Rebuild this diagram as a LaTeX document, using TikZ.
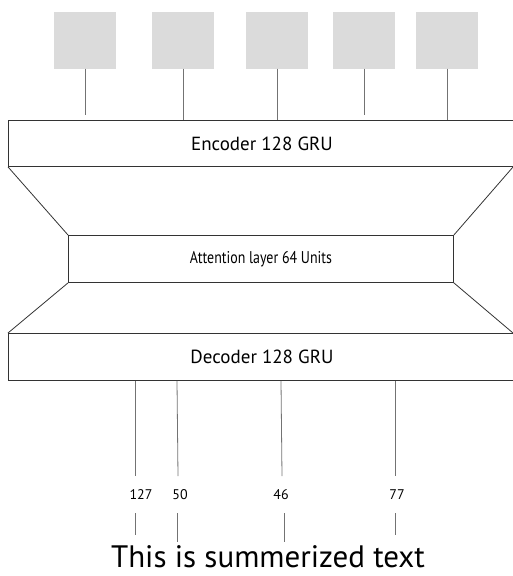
\documentclass[tikz,border=0pt]{standalone}
\usepackage{fontspec}
\setmainfont{PT Sans}
\usepackage{tikz}

\begin{document}
\begin{tikzpicture}[x=1pt, y=-1pt,
    sq/.style={rectangle, fill=black!14, minimum width=62pt, minimum height=57pt, inner sep=0pt},
    layer/.style={rectangle, draw=black!80, line width=0.9pt, inner sep=0pt},
    num/.style={font=\fontsize{14}{16}\selectfont, inner sep=1pt},
    wire/.style={draw=black!55, line width=0.8pt}]
  \useasboundingbox (0,0) rectangle (513,576);

  % Eingaben (graue Kaesten)
  \node[sq] (s1) at (85,40) {};
  \node[sq] (s2) at (183,40) {};
  \node[sq] (s3) at (277,40) {};
  \node[sq] (s4) at (364,40) {};
  \node[sq] (s5) at (447,40) {};

  % Encoder
  \node[layer, anchor=north west, minimum width=507pt, minimum height=46pt,
        font=\fontsize{19}{21}\selectfont] (enc) at (8,120) {Encoder 128 GRU};

  \draw[wire] (s1) -- ([yshift=5pt]s1 |- enc.north);
  \draw[wire] (s2) -- (s2 |- enc.north);
  \draw[wire] (s3) -- (s3 |- enc.north);
  \draw[wire] (s4) -- ([yshift=5pt]s4 |- enc.north);
  \draw[wire] (s5) -- (s5 |- enc.north);

  % Attention
  \node[layer, anchor=north west, minimum width=385pt, minimum height=47pt,
        font=\fontsize{17}{19}\selectfont] (att) at (68,235) {\scalebox{0.82}[1]{Attention layer 64 Units}};

  % Decoder
  \node[layer, anchor=north west, minimum width=507pt, minimum height=47pt,
        font=\fontsize{19}{21}\selectfont] (dec) at (8,333) {Decoder 128 GRU};

  \coordinate (er) at (513,167);
  \coordinate (dr) at (513,333);
  \draw[black!80, line width=0.8pt] (enc.south west) -- (att.north west);
  \draw[black!80, line width=0.8pt] (er) -- (att.north east);
  \draw[black!80, line width=0.8pt] (att.south west) -- (dec.north west);
  \draw[black!80, line width=0.8pt] (att.south east) -- (dr);

  % Ausgaben
  \node[num] (n1) at (141,495) {127};
  \node[num] (n2) at (180,495) {50};
  \node[num] (n3) at (281,495) {46};
  \node[num] (n4) at (397,495) {77};

  \node[font=\fontsize{31}{34}\selectfont, inner sep=0pt] (txt) at (268,557) {This is summerized text};

  \coordinate (a1) at (135,476);
  \coordinate (a2) at (178,476);
  \coordinate (a3) at (282,476);
  \coordinate (a4) at (395,476);
  \coordinate (b1) at (135,513);
  \coordinate (b2) at (177,513);
  \coordinate (b3) at (284,513);
  \coordinate (b4) at (395,513);

  \draw[wire] (dec.south -| 135,0) -- (a1);
  \draw[wire] (dec.south -| 177,0) -- (a2);
  \draw[wire] (dec.south -| 281,0) -- (a3);
  \draw[wire] (dec.south -| 395,0) -- (a4);

  \draw[wire] (b1) -- (b1 |- 0,535);
  \draw[wire] (b2) -- (b2 |- 0,542);
  \draw[wire] (b3) -- (b3 |- 0,542);
  \draw[wire] (b4) -- (b4 |- 0,535);
\end{tikzpicture}
\end{document}
